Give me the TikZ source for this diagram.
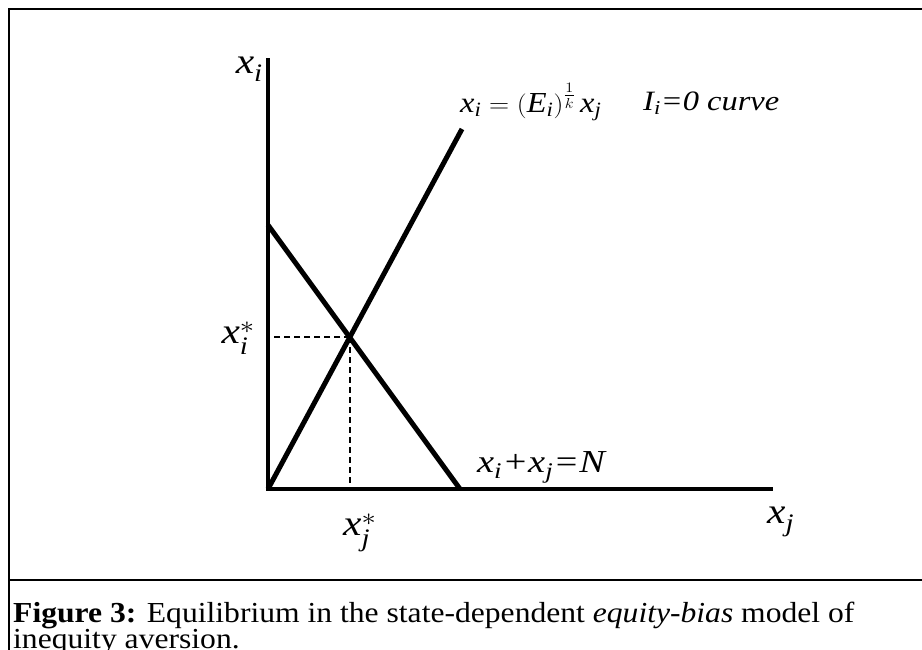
\documentclass[tikz,border=0pt]{standalone}
\usepackage{amsmath}
\usepackage{fontspec}
\setmainfont{Liberation Serif}
\usepackage{tikz}

\newcommand{\xv}[1]{\mathit{x}_{\mathit{#1}}}
\newcommand{\hwide}[2]{\scalebox{#1}[1]{#2}}
\tikzset{
  axis/.style={line width=4pt},
  curveline/.style={line width=5pt},
  guide/.style={line width=1.5pt,dash pattern=on 6pt off 4pt},
  biglbl/.style={inner sep=0pt,font=\fontsize{36}{40}\selectfont},
  caplbl/.style={inner sep=0pt,anchor=base west,font=\fontsize{29}{32}\selectfont},
}

\begin{document}
\begin{tikzpicture}[x=1pt,y=-1pt]
  \useasboundingbox (0,0) rectangle (922,649);
  % frame and caption rule
  \draw[line width=2.5pt] (930,9) -- (9,9) -- (9,660);
  \draw[line width=2.5pt] (9,580) -- (930,580);
  % axes
  \coordinate (O) at (268,489);
  \coordinate (ytop) at (268,58);
  \coordinate (xend) at (773,489);
  \draw[axis] (ytop) -- (O) -- (xend);
  % budget line and equity ray
  \coordinate (bud) at (268,225);
  \coordinate (budx) at (460,489);
  \coordinate (ray) at (462,129);
  \draw[curveline] (bud) -- (budx);
  \draw[curveline] (O) -- (ray);
  \coordinate (eq) at (350,337);
  \draw[guide] (eq) -- (eq -| O);
  \draw[guide] (eq) -- (eq |- O);
  % labels
  \node[biglbl,anchor=base east] (lxi) at (263,73) {\hwide{1.15}{$\xv{i}$}};
  \node[biglbl,anchor=base east] (lxis) at (255,343) {\hwide{1.15}{$\xv{i}^{*}$}};
  \node[biglbl,anchor=base west] (lxjs) at (343,535) {\hwide{1.15}{$\xv{j}^{*}$}};
  \node[biglbl,anchor=base west] (lxj) at (767,523) {\hwide{1.15}{$\xv{j}$}};
  \node[inner sep=0pt,font=\fontsize{32}{36}\selectfont,anchor=base west] (lbud) at (477,472)
    {\hwide{1.2}{\textit{x\textsubscript{i}+x\textsubscript{j}=N}}};
  \node[inner sep=0pt,font=\fontsize{29}{34}\selectfont,anchor=base west] (lray) at (460,112)
    {\hwide{1.12}{$\xv{i} = \left(\mathit{E}_{\mathit{i}}\right)^{\frac{1}{k}} \xv{j}$}};
  \node[inner sep=0pt,font=\fontsize{28}{32}\selectfont,anchor=base west] (lcurve) at (643,110)
    {\hwide{1.16}{\textit{I\textsubscript{i}=0 curve}}};
  % caption
  \node[caplbl] (cap1) at (13,622)
    {\hwide{1.09}{\textbf{Figure 3:} Equilibrium in the state-dependent \textit{equity-bias} model of}};
  \node[caplbl] (cap2) at (13,648) {\hwide{1.09}{inequity aversion.}};
\end{tikzpicture}
\end{document}
